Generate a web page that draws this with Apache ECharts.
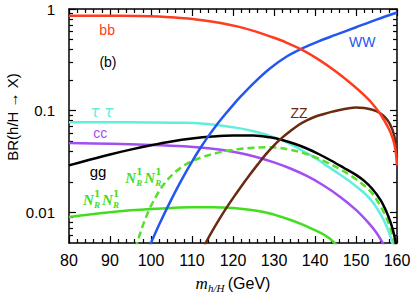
<!DOCTYPE html>
<html><head><meta charset="utf-8">
<script src="https://cdn.jsdelivr.net/npm/echarts@6/dist/echarts.min.js"></script>
<style>html,body{margin:0;padding:0;background:#fff}#c{width:414px;height:300px}</style>
</head><body><div id="c"></div>
<script>
// ---- tick labels ----
const xTickValues = [80, 90, 100, 110, 120, 130, 140, 150, 160];
const yMajorTicks = [0.01, 0.1, 1];
const yMinorTicks = [0.006, 0.007, 0.008, 0.009, 0.02, 0.03, 0.04, 0.05, 0.06, 0.07, 0.08, 0.09, 0.2, 0.3, 0.4, 0.5, 0.6, 0.7, 0.8, 0.9];

// ---- series values: [m_h/H (GeV), BR] ----
const bb = [[80,0.859],[90,0.857],[100,0.847],[108,0.811],[113,0.771],[117,0.729],[121,0.675],[125,0.61],[129,0.538],[133,0.468],[137,0.394],[141,0.316],[145,0.244],[149,0.182],[152,0.142],[154,0.117],[156,0.0918],[158,0.0665],[159,0.0528],[159.6,0.0418],[160,0.0289]];
const ww = [[99.5,0.00447],[100,0.00501],[102,0.00759],[104,0.0112],[106,0.0162],[108,0.0229],[110,0.0316],[112,0.0427],[114,0.0562],[116,0.0724],[118,0.0912],[120,0.1135],[122,0.1396],[125,0.186],[129,0.26],[133,0.339],[137,0.412],[141,0.484],[145,0.556],[150,0.661],[155,0.785],[160,0.923]];
const zz = [[113,0.00468],[114,0.00562],[116,0.00776],[118,0.01047],[120,0.0138],[122,0.018],[124,0.0232],[126,0.0295],[128,0.0372],[130,0.0457],[132,0.0543],[134,0.0631],[136,0.0724],[138,0.0804],[140,0.0871],[142,0.0923],[144,0.0973],[146,0.1016],[148,0.1052],[150,0.1072],[152,0.1064],[154,0.1023],[155.5,0.0966],[156.7,0.0891],[157.6,0.0813],[158.3,0.0733],[159,0.0631],[159.5,0.0525],[160,0.0347]];
const tautau = [[80,0.0771],[90,0.0769],[100,0.0766],[108,0.0759],[113,0.0743],[117,0.0716],[121,0.0678],[125,0.0627],[129,0.0566],[133,0.049],[135,0.0447],[137,0.0403],[139,0.0363],[141,0.0324],[143,0.0285],[146,0.0237],[149,0.0195],[152,0.0155],[154,0.0127],[156,0.00955],[157.5,0.00724],[158.5,0.00562],[159.3,0.00427]];
const cc = [[80,0.0481],[90,0.0472],[100,0.0461],[108,0.0447],[114,0.0427],[120,0.0394],[125,0.0356],[130,0.031],[134,0.027],[138,0.0228],[142,0.0185],[146,0.01436],[150,0.01059],[153,0.00794],[155,0.00631],[156.5,0.00501],[157,0.00457]];
const gg = [[80,0.029],[85,0.0329],[90,0.0371],[95,0.0414],[100,0.0457],[105,0.0498],[110,0.0532],[115,0.0557],[120,0.057],[125,0.0569],[129,0.0547],[132,0.0515],[135,0.0473],[138,0.0425],[141,0.0373],[144,0.0322],[147,0.0275],[150,0.0234],[152,0.0204],[154,0.017],[156,0.0132],[157.5,0.01],[158.5,0.00785],[159.3,0.00603],[159.8,0.00468],[160,0.00398]];
const nnDashed = [[96.2,0.00437],[97,0.00562],[98,0.00741],[99,0.00944],[100,0.01161],[102,0.01622],[104,0.0209],[106,0.0251],[108,0.0288],[110,0.032],[113,0.0355],[116,0.0383],[119,0.0406],[122,0.0422],[125,0.0433],[128,0.0437],[131,0.0433],[134,0.0412],[137,0.0385],[140,0.035],[143,0.0309],[146,0.0267],[149,0.0226],[152,0.0184],[154,0.0153],[156,0.01148],[157.5,0.00871],[158.5,0.00676],[159.3,0.00513],[159.9,0.0038]];
const nnSolid = [[80,0.00899],[85,0.00955],[90,0.01005],[95,0.01047],[100,0.01081],[105,0.01107],[110,0.01122],[115,0.01122],[120,0.01102],[125,0.01047],[129,0.00977],[133,0.00871],[137,0.00759],[140,0.00668],[142,0.0061],[143.5,0.00556],[145,0.0049],[145.5,0.00468]];

const RED = '#ff3c1e', BLUE = '#2456f0', BROWN = '#6a2a10', CYAN = '#62eedc', PURPLE = '#a24ff2', GREEN = '#44dd1e', GREEN2 = '#55e02a';

const seriesDefs = [
  {name: 'cc', data: cc, color: PURPLE},
  {name: 'tautau', data: tautau, color: CYAN},
  {name: 'NN solid', data: nnSolid, color: GREEN},
  {name: 'NN dashed', data: nnDashed, color: GREEN2, dashed: true},
  {name: 'gg', data: gg, color: '#000'},
  {name: 'ZZ', data: zz, color: BROWN},
  {name: 'WW', data: ww, color: BLUE},
  {name: 'bb', data: bb, color: RED}
];

const L10 = v => Math.log10(v);
const yMin = 0.005, yMax = 1;
const SANS = 'Liberation Sans, Arial, sans-serif';

function xAx(pos, labels) {
  return {
    type: 'value', min: 80, max: 160, interval: 10, position: pos,
    axisLine: {show: true, onZero: false, lineStyle: {color: '#000', width: 1.5}},
    axisTick: {show: true, inside: true, length: 7, lineStyle: {color: '#000', width: 1.2}},
    minorTick: {show: true, splitNumber: 5, length: 4, lineStyle: {color: '#000', width: 1.2}},
    axisLabel: {show: labels, color: '#000', fontSize: 16, fontFamily: SANS, margin: 9,
      customValues: xTickValues},
    splitLine: {show: false}, minorSplitLine: {show: false}
  };
}
function yDeco(pos, major, line) {
  const vals = (major ? yMajorTicks : yMinorTicks).map(L10);
  return {
    type: 'value', min: L10(yMin), max: L10(yMax), position: pos,
    axisLine: {show: line, onZero: false, lineStyle: {color: '#000', width: 1.5}},
    axisTick: {show: true, inside: true, length: major ? 7 : 4, customValues: vals, lineStyle: {color: '#000', width: 1.2}},
    axisLabel: {show: major && pos === 'left', customValues: vals, color: '#000', fontSize: 15, fontFamily: SANS, margin: 14,
      formatter: v => String(Number(Math.pow(10, v).toPrecision(1)))},
    splitLine: {show: false}
  };
}

const chart = echarts.init(document.getElementById('c'), null, {renderer: 'svg'});
chart.setOption({
  animation: false,
  backgroundColor: '#fff',
  grid: {left: 69, right: 17, top: 9, bottom: 57, containLabel: false, outerBoundsMode: 'none'},
  xAxis: [
    Object.assign(xAx('bottom', true), {
      name: '{m|m}{s|h/H} {g|(GeV)}', nameLocation: 'middle', nameGap: 30,
      nameTextStyle: {rich: {
        m: {fontFamily: 'Liberation Serif', fontStyle: 'italic', fontSize: 17, color: '#000', lineHeight: 20},
        s: {fontFamily: 'Liberation Serif', fontStyle: 'italic', fontSize: 11, color: '#000', verticalAlign: 'bottom', lineHeight: 20, padding: [7, 0, 0, 0]},
        g: {fontFamily: SANS, fontSize: 16, color: '#000', lineHeight: 20}
      }}
    }),
    xAx('top', false)
  ],
  yAxis: [
    {type: 'log', logBase: 10, min: yMin, max: yMax, position: 'left', show: false},
    yDeco('left', true, true),
    yDeco('left', false, false),
    yDeco('right', true, true),
    yDeco('right', false, false)
  ],
  series: seriesDefs.map(s => ({
    type: 'line', name: s.name, data: s.data, xAxisIndex: 0, yAxisIndex: 0,
    showSymbol: false, smooth: 0.35, clip: true,
    lineStyle: {color: s.color, width: 2.5, type: s.dashed ? [7, 4] : 'solid'}
  }))
});

// ---- text annotations anchored in data coordinates ----
const annotations = [
  {text: 'bb', m: 89.3, br: 0.62, color: RED, size: 14},
  {text: '(b)', m: 89.5, br: 0.30, color: '#000', size: 14},
  {text: 'τ τ', m: 88, br: 0.097, color: CYAN, size: 15, italic: true},
  {text: 'cc', m: 87.6, br: 0.060, color: PURPLE, size: 14},
  {text: 'gg', m: 87.1, br: 0.0254, color: '#000', size: 15},
  {text: 'WW', m: 151.5, br: 0.47, color: BLUE, size: 14},
  {text: 'ZZ', m: 136.1, br: 0.094, color: BROWN, size: 14}
];
const nLabels = [
  {m: 93.7, br: 0.0216},
  {m: 83.4, br: 0.0131}
];

function toPx(m, br) { return chart.convertToPixel({xAxisIndex: 0, yAxisIndex: 0}, [m, br]); }
const graphics = [];
annotations.forEach(a => {
  const p = toPx(a.m, a.br);
  graphics.push({type: 'text', x: p[0], y: p[1], silent: true, style: {
    text: a.text, fill: a.color, align: 'center', verticalAlign: 'middle', textAlign: 'center', textVerticalAlign: 'middle',
    font: (a.italic ? 'italic ' : '') + a.size + 'px ' + (a.italic ? 'DejaVu Sans' : SANS)
  }});
});
const NF = 'italic bold 15px Liberation Serif', SF = 'italic bold 9px Liberation Serif', OF = 'bold 9px DejaVu Serif';
nLabels.forEach(n => {
  const p = toPx(n.m, n.br);
  const parts = [
    ['N', 0, 0, NF], ['1', 11, -6, OF], ['R', 11, 5, SF],
    ['N', 19, 0, NF], ['1', 30, -6, OF], ['R', 30, 5, SF]
  ];
  graphics.push({type: 'group', x: p[0], y: p[1], silent: true, children: parts.map(t => ({
    type: 'text', x: t[1], y: t[2], style: {text: t[0], fill: GREEN, font: t[3], align: 'left', verticalAlign: 'middle', textAlign: 'left', textVerticalAlign: 'middle'}
  }))});
});
graphics.push({type: 'text', x: 12, y: 117, rotation: Math.PI / 2, silent: true, style: {
  text: 'BR(h/H → X)', fill: '#000', font: '15px ' + SANS, align: 'center', verticalAlign: 'middle', textAlign: 'center', textVerticalAlign: 'middle'
}});
chart.setOption({graphic: graphics});
</script>
</body></html>
